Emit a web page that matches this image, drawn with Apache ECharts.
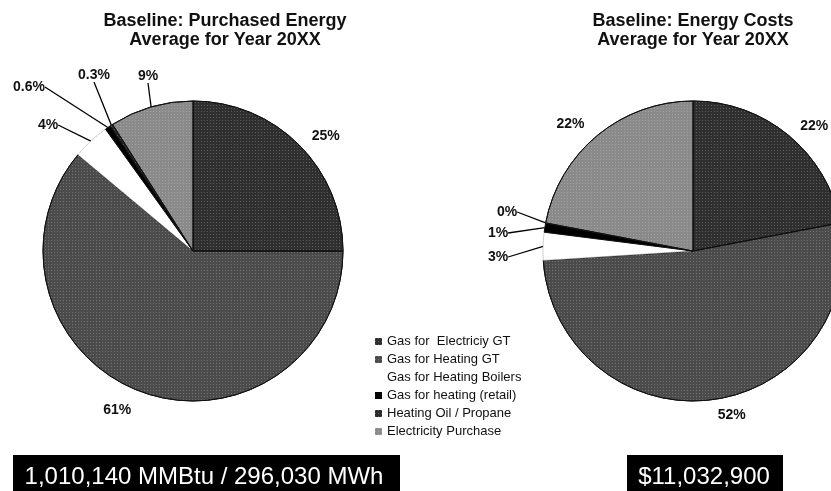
<!DOCTYPE html>
<html>
<head>
<meta charset="utf-8">
<script src="https://cdn.jsdelivr.net/npm/echarts@6/dist/echarts.min.js"></script>
<style>
  html, body { margin: 0; padding: 0; background: #fff; }
  #chart { width: 831px; height: 491px; }
</style>
</head>
<body>
<div id="chart"></div>
<script>
// data
const CATEGORIES = [
  'Gas for  Electriciy GT',
  'Gas for Heating GT',
  'Gas for Heating Boilers',
  'Gas for heating (retail)',
  'Heating Oil / Propane',
  'Electricity Purchase'
]
const ENERGY_PCT = [25, 61, 4, 0.6, 0.3, 9]
const COST_PCT = [22, 52, 3, 1, 0, 22]
const TITLE_ENERGY = 'Baseline: Purchased Energy\nAverage for Year 20XX'
const TITLE_COST = 'Baseline: Energy Costs\nAverage for Year 20XX'
const TOTAL_ENERGY = '1,010,140 MMBtu / 296,030 MWh'
const TOTAL_COST = '$11,032,900'

// styles
const FONT = '"Liberation Sans", Arial, sans-serif'
const SLICE_COLORS = ['#2f2f2f', '#4b4b4b', '#ffffff', '#000000', '#2a2a2a', '#8a8a8a']
// halftone-ish speckle on the grey slices
const SPECKLE = {
  symbol: 'rect', symbolSize: 1, color: 'rgba(255,255,255,0.22)',
  dashArrayX: [1, 2], dashArrayY: [1, 2], rotation: 0
}
// leader-line labels for the thin slices (label centre, px)
const SMALL_LABELS = [
  { 2: [48, 125], 3: [29, 87], 4: [94, 75], 5: [148, 76] },
  { 2: [498, 257], 3: [498, 233], 4: [507, 212] }
]
// radial offset for the big labels (no leader line)
const BIG_LEN = [
  { 0: 12, 1: 19 },
  { 0: 12, 1: 15, 5: 14 }
]

function pieData(values, s) {
  return CATEGORIES.map((name, i) => {
    const small = SMALL_LABELS[s][i] != null
    const c = SLICE_COLORS[i]
    const isWhite = c === '#ffffff'
    const isBlack = c === '#000000'
    const itemStyle = {
      color: c,
      borderColor: isWhite ? '#9a9a9a' : '#111',
      borderType: isWhite ? 'dotted' : 'solid',
      borderWidth: 1
    }
    if (!isWhite && !isBlack) itemStyle.decal = SPECKLE
    return {
      name,
      value: values[i],
      itemStyle,
      labelLine: {
        show: small,
        length: small ? 6 : BIG_LEN[s][i],
        length2: 0
      }
    }
  })
}

function pieSeries(values, s, center) {
  return {
    type: 'pie',
    center,
    radius: 150,
    startAngle: 90,
    clockwise: true,
    avoidLabelOverlap: false,
    silent: true,
    label: {
      show: true,
      position: 'outside',
      formatter: '{c}%',
      color: '#111',
      fontFamily: FONT,
      fontWeight: 'bold',
      fontSize: 14,
      distanceToLabelLine: 4
    },
    labelLine: { lineStyle: { color: '#000', width: 1.3 } },
    labelLayout: (p) => {
      const pos = SMALL_LABELS[s][p.dataIndex]
      if (!pos) return {}
      return { x: pos[0], y: pos[1], align: 'center', verticalAlign: 'middle' }
    },
    data: pieData(values, s)
  }
}

const chart = echarts.init(document.getElementById('chart'))
chart.setOption({
  animation: false,
  backgroundColor: '#fff',
  legend: {
    orient: 'vertical',
    left: 370,
    top: 330,
    icon: 'rect',
    itemWidth: 7,
    itemHeight: 7,
    itemGap: 5,
    selectedMode: false,
    itemStyle: { borderWidth: 0 },
    textStyle: { color: '#111', fontFamily: FONT, fontSize: 13, lineHeight: 12 },
    data: CATEGORIES
  },
  graphic: [
    {
      type: 'text',
      style: {
        text: TITLE_ENERGY, x: 225, y: 12, align: 'center', verticalAlign: 'top',
        fill: '#111', fontFamily: FONT, fontWeight: 'bold', fontSize: 18, lineHeight: 19
      }
    },
    {
      type: 'text',
      style: {
        text: TITLE_COST, x: 693, y: 12, align: 'center', verticalAlign: 'top',
        fill: '#111', fontFamily: FONT, fontWeight: 'bold', fontSize: 18, lineHeight: 19
      }
    },
    { type: 'rect', shape: { x: 13, y: 455, width: 387, height: 45 }, style: { fill: '#000' } },
    {
      type: 'text',
      style: {
        text: TOTAL_ENERGY, x: 204, y: 477, align: 'center', verticalAlign: 'middle',
        fill: '#fff', fontFamily: FONT, fontSize: 24
      }
    },
    { type: 'rect', shape: { x: 627, y: 455, width: 156, height: 45 }, style: { fill: '#000' } },
    {
      type: 'text',
      style: {
        text: TOTAL_COST, x: 704, y: 477, align: 'center', verticalAlign: 'middle',
        fill: '#fff', fontFamily: FONT, fontSize: 24
      }
    }
  ],
  series: [
    pieSeries(ENERGY_PCT, 0, [193, 251]),
    pieSeries(COST_PCT, 1, [693, 251])
  ]
})
</script>
</body>
</html>
